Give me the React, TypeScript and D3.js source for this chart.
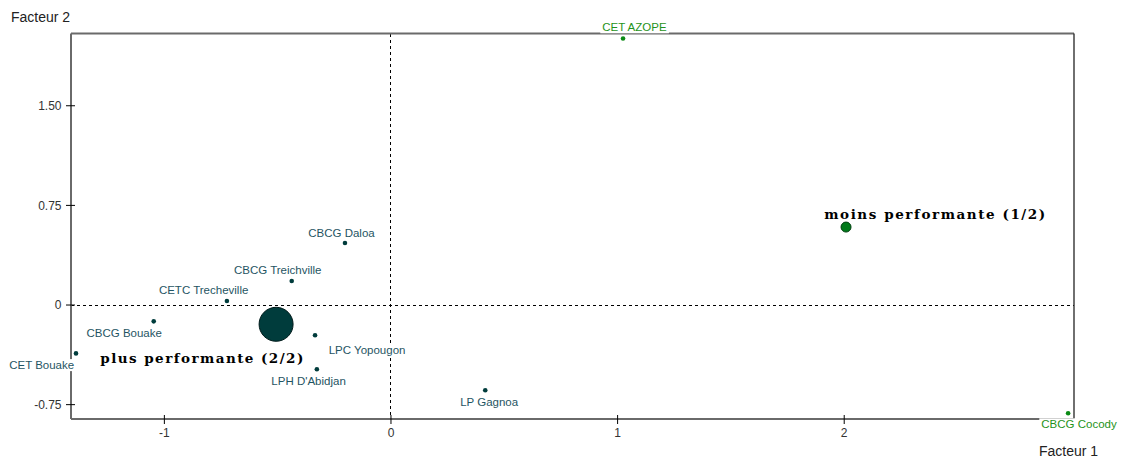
import React, { useEffect, useRef } from "react";
import * as d3 from "d3";

// ---- data ----
const names = [
  "CBCG Daloa",
  "CBCG Treichville",
  "CETC Trecheville",
  "CBCG Bouake",
  "CET Bouake",
  "LPC Yopougon",
  "LPH D'Abidjan",
  "LP Gagnoa",
  "CET AZOPE",
  "CBCG Cocody",
];
const factor1 = [-0.203, -0.438, -0.724, -1.047, -1.39, -0.335, -0.327, 0.416, 1.024, 2.988];
const factor2 = [0.467, 0.181, 0.03, -0.123, -0.364, -0.228, -0.484, -0.642, 2.006, -0.815];
const cluster = [2, 2, 2, 2, 2, 2, 2, 2, 1, 1];

const centroidNames = ["moins performante (1/2)", "plus performante (2/2)"];
const centroidF1 = [2.008, -0.507];
const centroidF2 = [0.587, -0.145];
const centroidCluster = [1, 2];

const xTicks = [-1, 0, 1, 2];
const yTicks = [-0.75, 0, 0.75, 1.5];
const yTickLabels = ["-0.75", "0", "0.75", "1.50"];

// ---- layout (label placement relative to its point) ----
const labelOffsets: [number, number][] = [
  [-3.5, -10.3],
  [-14, -10.7],
  [-23.3, -11],
  [-29.5, 11.4],
  [-34.3, 11.7],
  [52, 14.7],
  [-8.3, 11.7],
  [3.9, 11.7],
  [11.4, -11.3],
  [10.9, 11],
];
const centroidOffsets: [number, number][] = [
  [88.7, -12.4],
  [-74.3, 34],
];
const centroidWidths = [221, 203];
const centroidRadius = [5, 17];

const W = 1125;
const H = 459;
const L = 71, R = 1074, T = 33.5, B = 419;

export default function App() {
  const ref = useRef<SVGSVGElement | null>(null);

  useEffect(() => {
    const svg = d3.select(ref.current);
    svg.selectAll("*").remove();

    const x = d3.scaleLinear().domain([-1.412, 3.014]).range([L, R]);
    const y = d3.scaleLinear().domain([-0.858, 2.044]).range([B, T]);

    svg.append("rect").attr("width", W).attr("height", H).attr("fill", "#fff");

    // dashed zero lines
    svg.append("line")
      .attr("x1", x(0)).attr("x2", x(0)).attr("y1", T).attr("y2", B)
      .attr("stroke", "#000").attr("stroke-width", 1).attr("stroke-dasharray", "3,3")
      .attr("shape-rendering", "crispEdges");
    svg.append("line")
      .attr("x1", L).attr("x2", R).attr("y1", y(0)).attr("y2", y(0))
      .attr("stroke", "#000").attr("stroke-width", 1).attr("stroke-dasharray", "3,3")
      .attr("shape-rendering", "crispEdges");

    // frame
    const frame = svg.append("g");
    frame.append("line").attr("x1", L).attr("x2", R).attr("y1", T).attr("y2", T)
      .attr("stroke", "#6a6a6a").attr("stroke-width", 2);
    frame.append("line").attr("x1", L).attr("x2", L).attr("y1", T).attr("y2", B)
      .attr("stroke", "#6a6a6a").attr("stroke-width", 2);
    frame.append("line").attr("x1", L).attr("x2", R).attr("y1", B).attr("y2", B)
      .attr("stroke", "#6a6a6a").attr("stroke-width", 2);
    frame.append("line").attr("x1", R).attr("x2", R).attr("y1", T).attr("y2", B)
      .attr("stroke", "#222").attr("stroke-width", 1.3);

    // ticks
    const font = "'Liberation Sans', Arial, sans-serif";
    xTicks.forEach((t) => {
      svg.append("line").attr("x1", x(t)).attr("x2", x(t)).attr("y1", B - 4).attr("y2", B + 5)
        .attr("stroke", "#000").attr("stroke-width", 1);
      svg.append("text").attr("x", x(t)).attr("y", B + 14).attr("dy", "0.35em")
        .attr("text-anchor", "middle").attr("font-family", font).attr("font-size", 12)
        .attr("fill", "#333").text(String(t));
    });
    yTicks.forEach((t, i) => {
      svg.append("line").attr("x1", L - 5).attr("x2", L + 4).attr("y1", y(t)).attr("y2", y(t))
        .attr("stroke", "#000").attr("stroke-width", 1);
      svg.append("text").attr("x", L - 9.5).attr("y", y(t)).attr("dy", "0.35em")
        .attr("text-anchor", "end").attr("font-family", font).attr("font-size", 12)
        .attr("fill", "#333").text(yTickLabels[i]);
    });

    // axis titles
    svg.append("text").attr("x", 11).attr("y", 17).attr("dy", "0.35em")
      .attr("font-family", font).attr("font-size", 14).attr("fill", "#222").text("Facteur 2");
    svg.append("text").attr("x", 1039).attr("y", 451).attr("dy", "0.35em")
      .attr("font-family", font).attr("font-size", 14).attr("fill", "#222").text("Facteur 1");

    const dotColor = (c: number) => (c === 1 ? "#0a8a14" : "#003c3c");
    const textColor = (c: number) => (c === 1 ? "#1f9320" : "#1f5563");

    // labels with white background
    names.forEach((n, i) => {
      const px = x(factor1[i]);
      const py = y(factor2[i]);
      const g = svg.append("g");
      const bg = g.append("rect").attr("fill", "#fff");
      const t = g.append("text")
        .attr("x", px + labelOffsets[i][0]).attr("y", py + labelOffsets[i][1]).attr("dy", "0.35em")
        .attr("text-anchor", "middle").attr("font-family", font).attr("font-size", 11.5)
        .attr("fill", textColor(cluster[i])).text(n);
      const bb = (t.node() as SVGTextElement).getBBox();
      bg.attr("x", bb.x - 2).attr("y", bb.y).attr("width", bb.width + 4).attr("height", bb.height);
    });

    // points
    svg.selectAll("circle.pt")
      .data(names.map((_, i) => i))
      .join("circle")
      .attr("class", "pt")
      .attr("cx", (i) => x(factor1[i]))
      .attr("cy", (i) => y(factor2[i]))
      .attr("r", 2.3)
      .attr("fill", (i) => dotColor(cluster[i]));

    // centroids
    centroidNames.forEach((n, i) => {
      const px = x(centroidF1[i]);
      const py = y(centroidF2[i]);
      svg.append("circle").attr("cx", px).attr("cy", py).attr("r", centroidRadius[i])
        .attr("fill", centroidCluster[i] === 1 ? "#007a1a" : "#003c3c")
        .attr("stroke", centroidCluster[i] === 1 ? "#004010" : "#001a1a").attr("stroke-width", 1);
      svg.append("text")
        .attr("x", px + centroidOffsets[i][0]).attr("y", py + centroidOffsets[i][1]).attr("dy", "0.35em")
        .attr("text-anchor", "middle")
        .attr("font-family", "'DejaVu Serif', serif").attr("font-weight", "bold").attr("font-size", 13.5)
        .attr("textLength", centroidWidths[i]).attr("lengthAdjust", "spacing")
        .attr("fill", "#000").text(n);
    });
  }, []);

  return (
    <svg
      ref={ref}
      width={W}
      height={H}
      style={{ position: "absolute", left: 0, top: 0, display: "block" }}
    />
  );
}
